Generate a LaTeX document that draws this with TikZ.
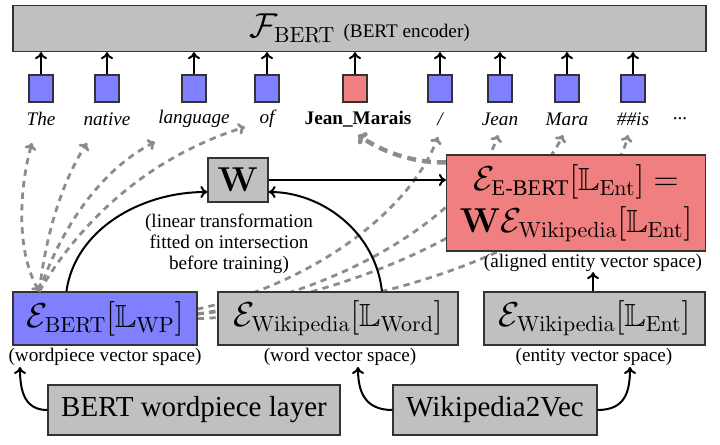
\documentclass[tikz,border=0pt]{standalone}
\usepackage[no-math]{fontspec}
\setmainfont{Liberation Serif}
\usepackage{amsmath,amssymb}
\usetikzlibrary{arrows.meta}
\definecolor{bgray}{RGB}{192,192,192}
\definecolor{bblue}{RGB}{128,128,255}
\definecolor{bred}{RGB}{240,128,128}
\definecolor{dgray}{RGB}{140,140,140}
\begin{document}
\begin{tikzpicture}[x=0.5pt,y=-0.5pt,
  box/.style={draw=black!80,line width=0.6pt,inner sep=0pt},
  graybox/.style={box,fill=bgray},
  tokbox/.style={box,minimum width=12pt,minimum height=13.5pt},
  lbl/.style={font=\fontsize{9.6}{10.6}\selectfont,inner sep=0pt,align=center},
  tok/.style={inner sep=0pt,font=\fontsize{9.6}{10.6}\selectfont\itshape},
  bigm/.style={font=\fontsize{16}{19}\selectfont},
  arr/.style={-{To[length=3.5pt,width=6pt]},line width=1pt},
  dashg/.style={draw=dgray,line width=1.4pt,dash pattern=on 3.2pt off 2.6pt,-{To[length=3.5pt,width=6pt]}},
  dashthick/.style={draw=dgray,line width=2.2pt,dash pattern=on 4.5pt off 3pt,-{To[length=4pt,width=7pt]}}
]
\useasboundingbox (0,0) rectangle (720,445);

% tip coordinates
\coordinate (tipThe) at (32,143);
\coordinate (tipNat) at (87,143);
\coordinate (tipLan) at (155,142);
\coordinate (tipOf) at (245,127);
\coordinate (tipJM) at (358,135);
\coordinate (tipSl) at (438,137);
\coordinate (tipJe) at (498,135);
\coordinate (tipMa) at (563,135);
\coordinate (tipIs) at (628,135);

\path (105,318.5) coordinate (eBc);

% dashed lines behind the boxes
\draw[dashg] (eBc) .. controls (250,322) and (400,235) .. (tipSl);
\draw[dashg] (eBc) .. controls (300,326) and (470,220) .. (tipJe);
\draw[dashg] (eBc) .. controls (310,324) and (520,225) .. (tipMa);
\draw[dashg] (eBc) .. controls (360,332) and (605,235) .. (tipIs);

% top encoder box
\node[graybox,minimum width=346.5pt,minimum height=23pt] (enc) at (359.5,28.5)
  {\fontsize{16}{19}\selectfont$\mathcal{F}_{\mathrm{BERT}}$ \fontsize{9.6}{10.6}\selectfont(BERT encoder)};

% token squares and labels
\foreach \n/\x/\t in {sThe/41/The, sNat/107/native, sLan/194/language, sOf/267/of, sJe/500/Jean, sMa/567/Mara, sIs/633/\#\#is}{
  \node[tokbox,fill=bblue] (\n) at (\x,88.5) {};
  \node[tok] (l\n) at (\x,119) {\t};
  \draw[arr] (\n.north) -- (\n.north |- enc.south);
}
\node[tokbox,fill=bblue] (sSl) at (440,88.5) {};
\node[tok] (lsSl) at (440,119) {/};
\draw[arr] (sSl.north) -- (sSl.north |- enc.south);
\node[tokbox,fill=bred] (sJM) at (355,88.5) {};
\node[lbl] (lsJM) at (358,119) {\textbf{Jean\_Marais}};
\draw[arr] (sJM.north) -- (sJM.north |- enc.south);
\node[lbl] (ldots) at (680,119) {...};

% W box
\node[graybox,minimum width=30pt,minimum height=22pt,font=\fontsize{17}{20}\selectfont] (W) at (238,180) {$\mathbf{W}$};
\node[lbl] (lin) at (229,244) {(linear transformation\\fitted on intersection\\before training)};

% pink box
\node[box,fill=bred,minimum width=129.5pt,minimum height=48pt,bigm,align=center] (pk) at (576,203)
  {$\mathcal{E}_{\text{E-BERT}}[\mathbb{L}_{\mathrm{Ent}}] =$\\[2pt]$\mathbf{W}\mathcal{E}_{\mathrm{Wikipedia}}[\mathbb{L}_{\mathrm{Ent}}]$};
\node[lbl] (lal) at (593,263) {(aligned entity vector space)};

% thick dashed to Jean_Marais
\draw[dashthick] ([yshift=-4pt]pk.north west) .. controls (410,163) and (380,150) .. (tipJM);

% row of spaces
\node[box,fill=bblue,minimum width=92pt,minimum height=26.5pt,bigm] (eB) at (eBc)
  {$\mathcal{E}_{\mathrm{BERT}}[\mathbb{L}_{\mathrm{WP}}]$};
\node[graybox,minimum width=120pt,minimum height=26.5pt,bigm] (eW) at (338,318.5)
  {$\mathcal{E}_{\mathrm{Wikipedia}}[\mathbb{L}_{\mathrm{Word}}]$};
\node[graybox,minimum width=110.5pt,minimum height=26.5pt,bigm] (eE) at (594.5,318.5)
  {$\mathcal{E}_{\mathrm{Wikipedia}}[\mathbb{L}_{\mathrm{Ent}}]$};
\node[lbl] (lwp) at (105,357) {(wordpiece vector space)};
\node[lbl] (lwo) at (340,357) {(word vector space)};
\node[lbl] (len) at (594,357) {(entity vector space)};

% dashed lines from wordpiece box to first tokens
\draw[dashg,{To[length=3.5pt,width=6pt]}-{To[length=3.5pt,width=6pt]}] ([xshift=13.5pt]eB.north west) .. controls (15,250) and (20,185) .. (tipThe);
\draw[dashg] ([xshift=13.5pt]eB.north west) .. controls (45,240) and (60,185) .. (tipNat);
\draw[dashg] ([xshift=13.5pt]eB.north west) .. controls (60,230) and (100,170) .. (tipLan);
\draw[dashg] ([xshift=13.5pt]eB.north west) .. controls (75,230) and (140,160) .. (tipOf);

% solid arrows to W and from W
\draw[arr] ([xshift=27pt]eB.north west) .. controls (75,230) and (140,192) .. ([yshift=-6pt]W.west);
\draw[arr] ([xshift=22pt]eW.north) .. controls (375,230) and (320,192) .. ([yshift=-6pt]W.east);
\draw[arr] (W.east) -- (W.east -| pk.west);
\draw[arr] (eE.north -| lal.south) -- (lal.south);

% bottom sources
\node[graybox,minimum width=146pt,minimum height=25pt,font=\fontsize{14.5}{17}\selectfont] (bwl) at (194,410) {BERT wordpiece layer};
\node[graybox,minimum width=102pt,minimum height=25pt,font=\fontsize{14.5}{17}\selectfont] (w2v) at (495,410) {Wikipedia2Vec};
\coordinate (t1) at (20,367);
\coordinate (t2) at (358,367);
\coordinate (t3) at (630,367);
\draw[arr] (bwl.west) .. controls (25,410) and (20,392) .. (t1);
\draw[arr] (w2v.west) .. controls (365,410) and (358,392) .. (t2);
\draw[arr] (w2v.east) .. controls (625,410) and (630,392) .. (t3);
\end{tikzpicture}
\end{document}
